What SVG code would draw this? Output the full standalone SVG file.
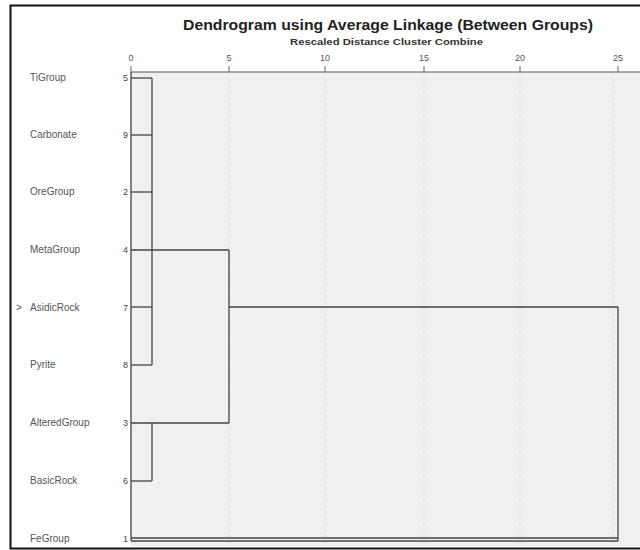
<svg xmlns="http://www.w3.org/2000/svg" width="640" height="550" viewBox="0 0 640 550">
<style>
.title{font-family:"Liberation Sans",Arial,sans-serif;font-weight:bold;font-size:15px;fill:#222}
.sub{font-family:"Liberation Sans",Arial,sans-serif;font-weight:bold;font-size:9px;fill:#333}
.tick{font-family:"Liberation Sans",Arial,sans-serif;font-size:9px;fill:#555}
.lab{font-family:"Liberation Sans",Arial,sans-serif;font-size:10px;fill:#555}
.num{font-family:"Liberation Sans",Arial,sans-serif;font-size:9px;fill:#444;text-anchor:end}
.grid{stroke:#dcdcdc;stroke-width:1;stroke-dasharray:3,3}
.edge{stroke:#444;stroke-width:1.3;fill:none}
</style>
<rect x="0" y="0" width="640" height="550" fill="#ffffff"/>
<rect x="131" y="72" width="509" height="474" fill="#f0f0f0"/>
<rect x="10.5" y="5.5" width="640" height="543" fill="none" stroke="#111" stroke-width="2"/>
<text class="title" x="183" y="30" textLength="410" lengthAdjust="spacingAndGlyphs">Dendrogram using Average Linkage (Between Groups)</text>
<text class="sub" x="290" y="45" textLength="193" lengthAdjust="spacingAndGlyphs">Rescaled Distance Cluster Combine</text>
<g id="axis">
<line x1="131" y1="72" x2="640" y2="72" stroke="#555" stroke-width="1"/>
<g class="tick" text-anchor="middle">
<text x="131" y="61">0</text>
<text x="229" y="61">5</text>
<text x="325" y="61">10</text>
<text x="424" y="61">15</text>
<text x="520" y="61">20</text>
<text x="618" y="61">25</text>
</g>
<g stroke="#666" stroke-width="1">
<line x1="131" y1="66" x2="131" y2="72"/>
<line x1="229" y1="66" x2="229" y2="72"/>
<line x1="325" y1="66" x2="325" y2="72"/>
<line x1="424" y1="66" x2="424" y2="72"/>
<line x1="520" y1="66" x2="520" y2="72"/>
<line x1="618" y1="66" x2="618" y2="72"/>
</g>
<g class="grid">
<line x1="229" y1="73" x2="229" y2="545"/>
<line x1="325" y1="73" x2="325" y2="545"/>
<line x1="424" y1="73" x2="424" y2="545"/>
<line x1="520" y1="73" x2="520" y2="545"/>
<line x1="613" y1="73" x2="613" y2="545"/>
</g>
</g>
<g id="n-TiGroup"><text class="lab" x="30" y="81">TiGroup</text><text class="num" x="128" y="81">5</text></g>
<g id="n-Carbonate"><text class="lab" x="30" y="138">Carbonate</text><text class="num" x="128" y="138">9</text></g>
<g id="n-OreGroup"><text class="lab" x="30" y="195">OreGroup</text><text class="num" x="128" y="195">2</text></g>
<g id="n-MetaGroup"><text class="lab" x="30" y="253">MetaGroup</text><text class="num" x="128" y="253">4</text></g>
<g id="n-AsidicRock"><text class="lab" x="16" y="311">&gt;</text><text class="lab" x="30" y="311">AsidicRock</text><text class="num" x="128" y="311">7</text></g>
<g id="n-Pyrite"><text class="lab" x="30" y="368">Pyrite</text><text class="num" x="128" y="368">8</text></g>
<g id="n-AlteredGroup"><text class="lab" x="30" y="426">AlteredGroup</text><text class="num" x="128" y="426">3</text></g>
<g id="n-BasicRock"><text class="lab" x="30" y="484">BasicRock</text><text class="num" x="128" y="484">6</text></g>
<g id="n-FeGroup"><text class="lab" x="30" y="542">FeGroup</text><text class="num" x="128" y="542">1</text></g>
<g id="connectors" class="edge">
<line x1="131" y1="72" x2="131" y2="541"/>
<line x1="131" y1="78" x2="152" y2="78"/>
<line x1="131" y1="135" x2="152" y2="135"/>
<line x1="131" y1="192" x2="152" y2="192"/>
<line x1="131" y1="250" x2="229" y2="250"/>
<line x1="131" y1="307" x2="152" y2="307"/>
<line x1="131" y1="365" x2="152" y2="365"/>
<line x1="152" y1="78" x2="152" y2="365"/>
<line x1="131" y1="423" x2="229" y2="423"/>
<line x1="131" y1="481" x2="152" y2="481"/>
<line x1="152" y1="423" x2="152" y2="481"/>
<line x1="229" y1="250" x2="229" y2="423"/>
<line x1="229" y1="307" x2="618" y2="307"/>
<line x1="618" y1="307" x2="618" y2="541"/>
<line x1="131" y1="538" x2="618" y2="538"/>
<line x1="131" y1="541" x2="618" y2="541"/>
</g>
</svg>
